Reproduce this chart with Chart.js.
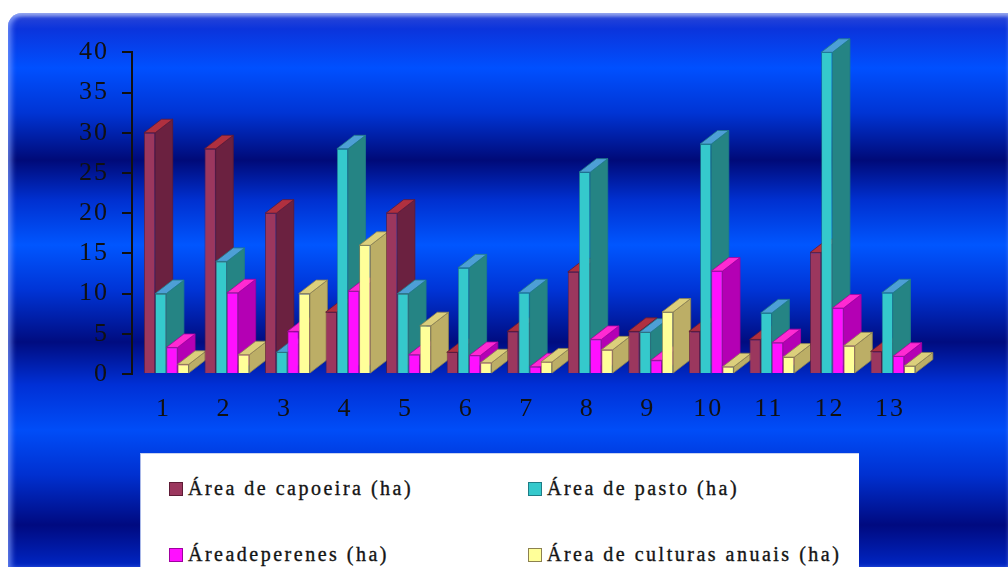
<!DOCTYPE html>
<html lang="pt">
<head>
<meta charset="utf-8">
<script src="https://cdn.jsdelivr.net/npm/chart.js@4"></script>
<style>
  html, body { margin: 0; padding: 0; width: 1008px; height: 567px; overflow: hidden; background: #fff; }
  #panel {
    position: absolute; left: 8px; top: 13px; right: 0; bottom: 0;
    border-top-left-radius: 14px;
    background: linear-gradient(to bottom,
      #7d8fdc 0px, #2442d8 5px, #0b34dc 16px, #0050ff 55px, #0034d4 100px,
      #000a78 147px, #0030d0 187px, #0056ff 232px, #0034d6 277px,
      #000c80 329px, #0030d6 372px, #004df8 417px, #0030d0 462px,
      #000a80 512px, #0026c4 554px);
  }
  #glow {
    position: absolute; left: 8px; top: 13px; right: 0; bottom: 0;
    border-top-left-radius: 14px;
    box-shadow: inset 5px 0 5px -1px rgba(130, 160, 255, 0.6),
                inset 0 4px 4px -1px rgba(190, 200, 255, 0.5);
  }
  #chart { position: absolute; left: 0; top: 0; }
  #legend {
    position: absolute; left: 140px; top: 453px; width: 718px; height: 130px;
    background: #fff; border-left: 1px solid #a9b8e8; border-top: 1px solid #c8d2f0;
  }
  #legend .item {
    position: absolute; height: 22px; line-height: 22px; white-space: nowrap;
    font-family: "Liberation Serif", "Times New Roman", serif; font-size: 20px;
    letter-spacing: 2.5px; color: #141414; -webkit-text-stroke: 0.35px #141414;
  }
  #legend .sw {
    display: inline-block; width: 12px; height: 12px; border: 1px solid #555;
    margin-right: 5px; vertical-align: -1px; -webkit-text-stroke: 0;
  }
</style>
</head>
<body>
<div id="panel"></div>
<div id="glow"></div>
<canvas id="chart" width="1008" height="567"></canvas>
<div id="legend"></div>
<script>
// Categories (properties 1..13) and the four land-use areas, in hectares
const categories = ['1', '2', '3', '4', '5', '6', '7', '8', '9', '10', '11', '12', '13'];
const capoeira = [30, 28, 20, 7.7, 20, 2.7, 5.3, 12.7, 5.3, 5.3, 4.3, 15.1, 2.8];
const pasto    = [10, 14, 2.7, 28, 10, 13.2, 10.1, 25.1, 5.2, 28.6, 7.6, 40, 10.1];
const perenes  = [3.3, 10.1, 5.3, 10.3, 2.4, 2.3, 0.9, 4.3, 1.7, 12.8, 3.9, 8.2, 2.2];
const culturas = [1.2, 2.4, 10, 16, 6, 1.4, 1.5, 3.0, 7.7, 0.9, 2.1, 3.5, 1.0];
const seriesNames = ['Área de capoeira (ha)', 'Área de pasto (ha)', 'Áreadeperenes (ha)', 'Área de culturas anuais (ha)'];
const yTicks = { min: 0, max: 40, step: 5 };

// Face colours for the extruded columns: front, side, top, edge
const faceStyles = [
  { front: '#9b375e', side: '#6b2140', top: '#b0303f', edge: '#5e1c36' },
  { front: '#35c9cc', side: '#258484', top: '#4d9fd6', edge: '#1f7c86' },
  { front: '#ff10ff', side: '#b400b4', top: '#ff2ad2', edge: '#a000a0' },
  { front: '#ffff99', side: '#bcae66', top: '#dccf7c', edge: '#8c8150' }
];
const depth = { dx: 17.5, dy: -13.5 };
const legendLayout = { colX: [28, 387], rowY: [23, 89] };

// Side and top faces for every column, painted left to right so nearer
// columns of a group cover the side of the one before them.
const columns3d = {
  id: 'columns3d',
  beforeDatasetsDraw(chart) {
    const ctx = chart.ctx;
    const metas = chart.data.datasets.map((d, i) => chart.getDatasetMeta(i));
    const n = chart.data.labels.length;
    for (let j = 0; j < n; j++) {
      for (let i = 0; i < metas.length; i++) {
        const bar = metas[i].data[j];
        if (!bar) continue;
        const { x, y, base, width } = bar.getProps(['x', 'y', 'base', 'width'], true);
        const l = x - width / 2, r = x + width / 2;
        const st = faceStyles[i];
        bar.draw(ctx);
        ctx.save();
        ctx.lineWidth = 0.8;
        ctx.strokeStyle = st.edge;
        ctx.lineJoin = 'round';
        ctx.beginPath();
        ctx.moveTo(r, y);
        ctx.lineTo(r + depth.dx, y + depth.dy);
        ctx.lineTo(r + depth.dx, base + depth.dy);
        ctx.lineTo(r, base);
        ctx.closePath();
        ctx.fillStyle = st.side;
        ctx.fill();
        ctx.stroke();
        ctx.beginPath();
        ctx.moveTo(l, y);
        ctx.lineTo(l + depth.dx, y + depth.dy);
        ctx.lineTo(r + depth.dx, y + depth.dy);
        ctx.lineTo(r, y);
        ctx.closePath();
        ctx.fillStyle = st.top;
        ctx.fill();
        ctx.stroke();
        ctx.restore();
      }
    }
    return false;
  }
};

// Wide-set serif digits on the axes
const axisLetterSpacing = {
  id: 'axisLetterSpacing',
  beforeDraw(chart) { chart.ctx.letterSpacing = '2px'; }
};

// Two-column legend in a white box under the plot
const htmlLegend = {
  id: 'htmlLegend',
  afterUpdate(chart) {
    const box = document.getElementById('legend');
    box.innerHTML = '';
    const items = chart.options.plugins.legend.labels.generateLabels(chart);
    items.forEach((it, k) => {
      const el = document.createElement('div');
      el.className = 'item';
      el.style.left = legendLayout.colX[k % 2] + 'px';
      el.style.top = legendLayout.rowY[Math.floor(k / 2)] + 'px';
      const sw = document.createElement('span');
      sw.className = 'sw';
      sw.style.background = it.fillStyle;
      sw.style.borderColor = it.strokeStyle;
      const tx = document.createElement('span');
      tx.textContent = it.text;
      el.append(sw, tx);
      box.append(el);
    });
  }
};

const seriesValues = [capoeira, pasto, perenes, culturas];
const axisFont = { family: "'Liberation Serif', 'Times New Roman', serif", size: 26 };

new Chart(document.getElementById('chart'), {
  type: 'bar',
  data: {
    labels: categories,
    datasets: seriesValues.map((vals, i) => ({
      label: seriesNames[i],
      data: vals,
      backgroundColor: faceStyles[i].front,
      borderColor: faceStyles[i].edge,
      borderWidth: 0.8,
      categoryPercentage: 0.74,
      barPercentage: 1.0
    }))
  },
  options: {
    responsive: false,
    animation: false,
    events: [],
    layout: { padding: { left: 32, right: 78.7, top: 52.3, bottom: 143 } },
    scales: {
      x: {
        type: 'linear',
        min: 0.432,
        max: 13.6,
        offset: false,
        grid: { display: false, drawTicks: false },
        border: { display: false },
        ticks: {
          stepSize: 1,
          includeBounds: false,
          autoSkip: false,
          maxRotation: 0,
          labelOffset: -3,
          padding: 20,
          color: '#111',
          font: axisFont,
          callback: (v) => (Number.isInteger(v) && categories[v - 1]) ? categories[v - 1] : ''
        },
        afterFit: (s) => { s.height = 50; }
      },
      y: {
        min: yTicks.min,
        max: yTicks.max,
        grid: { drawOnChartArea: false, drawTicks: true, tickLength: 10, color: '#111', lineWidth: 2 },
        border: { display: true, color: '#111', width: 2 },
        ticks: { stepSize: yTicks.step, padding: 13, color: '#111', font: axisFont },
        afterFit: (s) => { s.width = 100; }
      }
    },
    plugins: {
      legend: { display: false },
      tooltip: { enabled: false }
    }
  },
  plugins: [columns3d, axisLetterSpacing, htmlLegend]
});
</script>
</body>
</html>
